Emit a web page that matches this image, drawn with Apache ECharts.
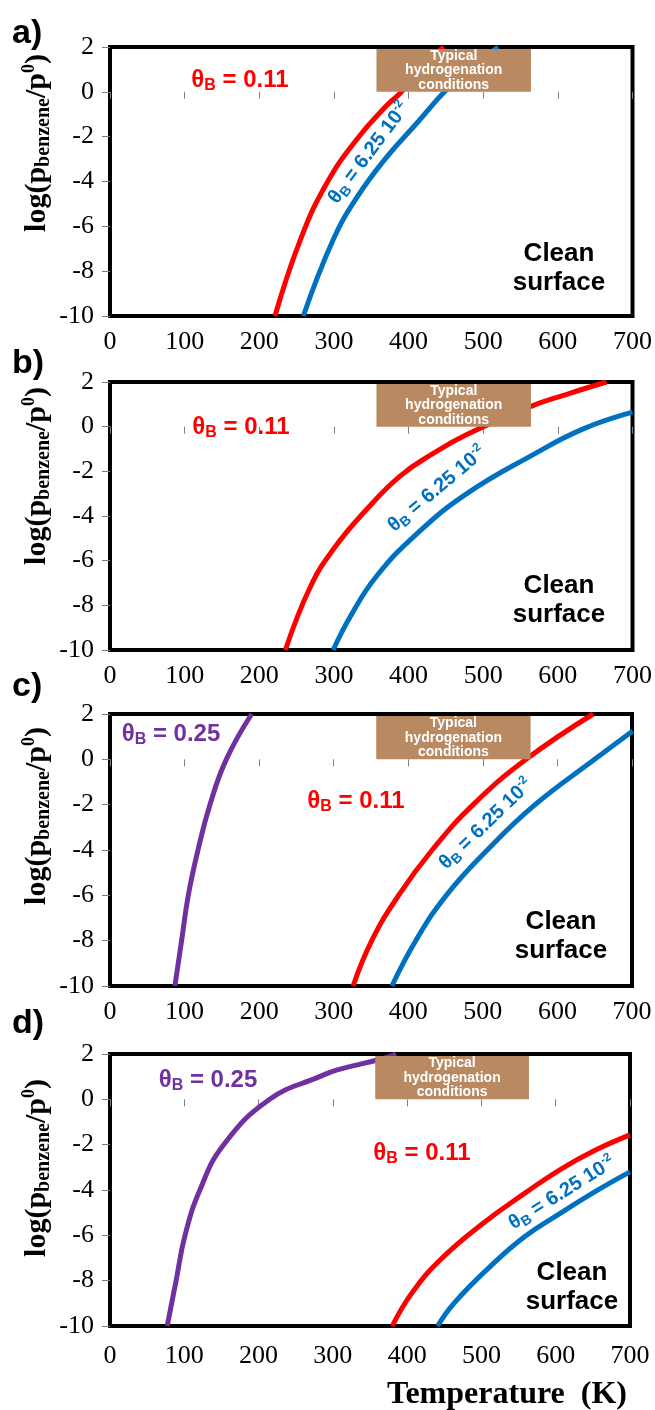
<!DOCTYPE html>
<html>
<head>
<meta charset="utf-8">
<script src="https://cdn.jsdelivr.net/npm/echarts@6/dist/echarts.min.js"></script>
<style>
html,body{margin:0;padding:0;background:#fff;}
#chart{width:655px;height:1410px;}
</style>
</head>
<body>
<div id="chart"></div>
<script>
// ---- data: [Temperature (K), log(p/p0)] ----
var aRed  = [[221,-10],[255,-6.6],[290,-4.1],[331,-2.1],[371,-0.6],[389,-0.05],[418,1.1],[447,2]];
var aBlue = [[259,-10],[299,-6.6],[331,-4.7],[371,-2.9],[411,-1.4],[451,0.1],[485,1.1],[520,2]];

var bRed  = [[235,-10],[268,-7.2],[299,-5.5],[344,-3.7],[389,-2.2],[433,-1.2],[478,-0.35],[563,0.9],[612,1.45],[665,2]];
var bBlue = [[299,-10],[322,-8.5],[357,-6.7],[411,-4.8],[478,-3.0],[567,-1.25],[634,-0.1],[700,0.65]];

var cPurple = [[87,-10],[96,-8],[105,-6],[118,-4],[134,-2],[156,0],[190,2]];
var cRed    = [[326,-10],[351,-8],[387,-6],[432,-4],[487,-2],[558,0],[648,2]];
var cBlue   = [[378,-10],[410,-8],[451,-6],[506,-4],[570,-2],[650,0],[701,1.25]];

var dPurple = [[77,-10],[89,-8],[101,-6],[121,-4],[153,-2],[215,0],[282,1.0],[306,1.3],[368,1.8],[385,2]];
var dRed    = [[380,-10],[406,-8.56],[444,-7.1],[501,-5.5],[558,-4.15],[606,-3.1],[653,-2.25],[700,-1.57]];
var dBlue   = [[441,-10],[463,-9.0],[511,-7.4],[558,-6.06],[606,-5.03],[653,-4.07],[700,-3.2]];

// typical hydrogenation conditions window: [Tmin, Tmax, logMin, logMax]
var hydroBox = [[357,564,0,2]];

var xTicks = {min:0, max:700, interval:100};
var yTicks = {min:-10, max:2, interval:2};

var RED='#FF0000', BLUE='#0070C0', PURPLE='#7030A0', BOX='#B98A62';

var grids = [
  {left:110, top:47, width:523, height:269},
  {left:110, top:382, width:523, height:268},
  {left:110, top:714, width:522, height:272},
  {left:110, top:1054, width:520, height:272}
];
var panels = [
  [[aRed,RED],[aBlue,BLUE]],
  [[bRed,RED],[bBlue,BLUE]],
  [[cPurple,PURPLE],[cRed,RED],[cBlue,BLUE]],
  [[dPurple,PURPLE],[dRed,RED],[dBlue,BLUE]]
];

var serif = "Liberation Serif";
var sans = "Liberation Sans";
var tickRich = {s:{fontFamily:serif, fontSize:26, color:'#000', fill:'#000', fontWeight:'normal'}};
function tickFmt(v){ return '{s|' + v + '}'; }

var option = {
  animation:false,
  backgroundColor:'#fff',
  textStyle:{fontFamily:serif},
  grid: grids.map(function(g){return Object.assign({show:true, borderColor:'#000', borderWidth:4, backgroundColor:'transparent', containLabel:false}, g);}),
  xAxis: grids.map(function(g,i){return {
    type:'value', gridIndex:i, min:xTicks.min, max:xTicks.max, interval:xTicks.interval,
    axisLine:{show:false}, splitLine:{show:false},
    axisTick:{show:true, length:7, lineStyle:{color:'#808080', width:1}},
    axisLabel:{fontFamily:serif, fontSize:26, color:'#000', margin: i===3?17:13, formatter:tickFmt, rich:tickRich}
  };}),
  yAxis: grids.map(function(g,i){return {
    type:'value', gridIndex:i, min:yTicks.min, max:yTicks.max, interval:yTicks.interval,
    axisLine:{show:false}, splitLine:{show:false},
    axisTick:{show:true, length:8, lineStyle:{color:'#808080', width:1}},
    axisLabel:{fontFamily:serif, fontSize:26, color:'#000', margin:16, formatter:tickFmt, rich:tickRich}
  };}),
  series: []
};

panels.forEach(function(p,i){
  p.forEach(function(s){
    option.series.push({
      type:'line', xAxisIndex:i, yAxisIndex:i, data:s[0], smooth:0.45,
      showSymbol:false, symbol:'none', lineStyle:{color:s[1], width:5}, z:3, silent:true
    });
  });
  option.series.push({
    type:'custom', xAxisIndex:i, yAxisIndex:i, data:hydroBox, z:10, silent:true,
    renderItem:function(params, api){
      var p1 = api.coord([api.value(0), api.value(3)]);
      var p2 = api.coord([api.value(1), api.value(2)]);
      return {type:'group', children:[
        {type:'rect', shape:{x:p1[0], y:p1[1]+2, width:p2[0]-p1[0], height:p2[1]-p1[1]-2}, style:{fill:BOX}},
        {type:'text', style:{text:'Typical\nhydrogenation\nconditions', x:(p1[0]+p2[0])/2, y:(p1[1]+p2[1])/2+1,
          align:'center', verticalAlign:'middle', fill:'#fff', font:'bold 14px '+sans, lineHeight:14.5}}
      ]};
    }
  });
});

function theta(x, y, value, color, size, rot){
  var sub = Math.round(size*0.68);
  return {
    type:'text', x:x, y:y, rotation:(rot||0)*Math.PI/180, z:20, silent:true,
    style:{
      text:'{t|θ}{s|B}{t| = '+value+'}', align:'center', verticalAlign:'middle',
      rich:{
        t:{fontSize:size, fontWeight:'bold', fontFamily:sans, fill:color, color:color, lineHeight:size+4},
        s:{fontSize:sub, fontWeight:'bold', fontFamily:sans, fill:color, color:color, lineHeight:sub, verticalAlign:'bottom'}
      }
    }
  };
}
function thetaSci(x, y, color, size, rot){
  var sub = Math.round(size*0.68);
  var sup = Math.round(size*0.6);
  return {
    type:'text', x:x, y:y, rotation:rot*Math.PI/180, z:20, silent:true,
    style:{
      text:'{t|θ}{s|B}{t| = 6.25 10}{p|-2}', align:'center', verticalAlign:'middle',
      rich:{
        t:{fontSize:size, fontWeight:'bold', fontFamily:sans, fill:color, color:color, lineHeight:size+4},
        s:{fontSize:sub, fontWeight:'bold', fontFamily:sans, fill:color, color:color, lineHeight:sub, verticalAlign:'bottom'},
        p:{fontSize:sup, fontWeight:'bold', fontFamily:sans, fill:color, color:color, lineHeight:sup, verticalAlign:'top'}
      }
    }
  };
}
function yTitle(cy){
  return {
    type:'text', x:37, y:cy, rotation:Math.PI/2, z:20, silent:true,
    style:{
      text:'{a|log(p}{b|benzene}{a|/p}{c|0}{a|)}', align:'center', verticalAlign:'middle',
      rich:{
        a:{fontSize:30, fontWeight:'bold', fontFamily:serif, fill:'#000', color:'#000', lineHeight:34},
        b:{fontSize:20, fontWeight:'bold', fontFamily:serif, fill:'#000', color:'#000', lineHeight:18, verticalAlign:'bottom'},
        c:{fontSize:18, fontWeight:'bold', fontFamily:serif, fill:'#000', color:'#000', lineHeight:16, verticalAlign:'top'}
      }
    }
  };
}
function plain(x, y, text, font, color, lh){
  return {type:'text', x:x, y:y, z:20, silent:true,
    style:{text:text, align:'center', verticalAlign:'middle', font:font, fill:color, lineHeight:lh||undefined}};
}

option.graphic = [
  {type:'text', x:12, y:34, z:20, style:{text:'a)', font:'bold 34px '+sans, fill:'#000', verticalAlign:'middle'}},
  {type:'text', x:12, y:364, z:20, style:{text:'b)', font:'bold 34px '+sans, fill:'#000', verticalAlign:'middle'}},
  {type:'text', x:12, y:687, z:20, style:{text:'c)', font:'bold 34px '+sans, fill:'#000', verticalAlign:'middle'}},
  {type:'text', x:12, y:1024, z:20, style:{text:'d)', font:'bold 34px '+sans, fill:'#000', verticalAlign:'middle'}},

  yTitle(143), yTitle(476), yTitle(816), yTitle(1168),

  theta(240, 80, '0.11', RED, 24),
  theta(241, 427, '0.11', RED, 24),
  theta(356, 801, '0.11', RED, 24),
  theta(422, 1153, '0.11', RED, 24),
  theta(171, 734, '0.25', PURPLE, 24),
  theta(208, 1080, '0.25', PURPLE, 24),

  thetaSci(369, 153, BLUE, 20, 53),
  thetaSci(437, 489, BLUE, 20, 40),
  thetaSci(486, 824, BLUE, 20, 44),
  thetaSci(562, 1193, BLUE, 20, 32),

  plain(559, 268, 'Clean\nsurface', 'bold 26px '+sans, '#000', 29),
  plain(559, 600, 'Clean\nsurface', 'bold 26px '+sans, '#000', 29),
  plain(561, 936, 'Clean\nsurface', 'bold 26px '+sans, '#000', 29),
  plain(572, 1287, 'Clean\nsurface', 'bold 26px '+sans, '#000', 29),

  {type:'text', x:387, y:1395, z:20, style:{text:'Temperature  (K)', font:'bold 32px '+serif, fill:'#000', verticalAlign:'middle', align:'left'}}
];

var chart = echarts.init(document.getElementById('chart'), null, {renderer:'canvas'});
chart.setOption(option);
</script>
</body>
</html>
